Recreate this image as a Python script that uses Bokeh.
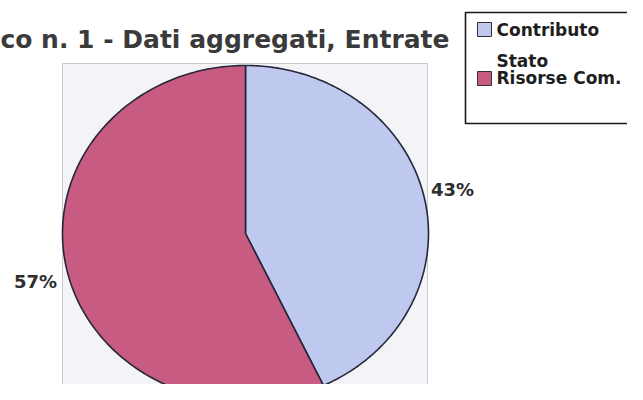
import numpy as np
from bokeh.plotting import figure
from bokeh.models import Range1d, ColumnDataSource
from bokeh.embed import file_html
from bokeh.resources import INLINE
from bokeh.core.properties import value

# ---- data ----
categories = ["Contributo Stato", "Risorse Com."]
shares = [43, 57]
pct_labels = ["43%", "57%"]
colors = ["#bfc8ee", "#c75b82"]
title_text = "co n. 1 - Dati aggregati, Entrate"
legend_lines = [["Contributo", "Stato"], ["Risorse Com."]]

# ---- layout (screen pixel coordinates, y downward) ----
W, H = 627, 384
FONT = "DejaVu Sans"
cx, cy, rx, ry = 245.0, 233.0, 183.0, 168.0

p = figure(width=W, height=H, output_backend="svg", toolbar_location=None,
           x_range=Range1d(0, W), y_range=Range1d(H, 0),
           x_axis_location=None, y_axis_location=None, min_border=0)
p.grid.visible = False
p.outline_line_color = None
p.background_fill_color = "white"
p.border_fill_color = "white"

# plot area
p.quad(left=[62], right=[427], top=[63], bottom=[410],
       fill_color="#f4f4f8", line_color="#c9c9ce", line_width=1)

# pie slices (clockwise from 12 o'clock), elliptical
total = float(sum(shares))
fr = np.cumsum([0.0] + [s / total for s in shares])
xs, ys, mids = [], [], []
for i in range(len(shares)):
    t = np.linspace(fr[i] * 2 * np.pi, fr[i + 1] * 2 * np.pi, 200)
    xs.append([cx] + list(cx + rx * np.sin(t)) + [cx])
    ys.append([cy] + list(cy - ry * np.cos(t)) + [cy])
    mids.append((fr[i] + fr[i + 1]) * np.pi)
p.patches(xs=xs, ys=ys, fill_color=colors, line_color="#26263a", line_width=1.6)

# percentage labels
lx, ly, la = [], [], []
for m in mids:
    s, c = np.sin(m), np.cos(m)
    lx.append(cx + (rx + 6) * s + (1 if s > 0 else -4))
    ly.append(cy - (ry + 7) * c + (-6 if s > 0 else 10))
    la.append("left" if s > 0 else "right")
src = ColumnDataSource(dict(x=lx, y=ly, t=pct_labels, a=la))
p.text(x="x", y="y", text="t", text_align="a", source=src, text_baseline="middle",
       text_font=value(FONT), text_font_style="bold", text_font_size="18px",
       text_color="#2e2e2e")

# title
p.text(x=[449], y=[39], text=[title_text], text_align="right", text_baseline="middle",
       text_font=value(FONT), text_font_style="bold", text_font_size="25px",
       text_color="#3a3a3a")

# legend
p.quad(left=[465], right=[660], top=[12], bottom=[123],
       fill_color="white", line_color="#1a1a1a", line_width=1.6)
sw_top = [22, 71]
p.quad(left=[477, 477], right=[491, 491], top=sw_top, bottom=[t + 14 for t in sw_top],
       fill_color=colors, line_color="#333333", line_width=1)
ltx, lty = [], []
line_y = [[29, 60], [77]]
for lines, yy in zip(legend_lines, line_y):
    for ln, y in zip(lines, yy):
        ltx.append(496)
        lty.append(y)
flat = [ln for lines in legend_lines for ln in lines]
p.text(x=ltx, y=lty, text=flat, text_baseline="middle",
       text_font=value(FONT), text_font_style="bold", text_font_size="17px",
       text_color="#1e1e1e")

open("out.html", "w").write(file_html(p, INLINE))
